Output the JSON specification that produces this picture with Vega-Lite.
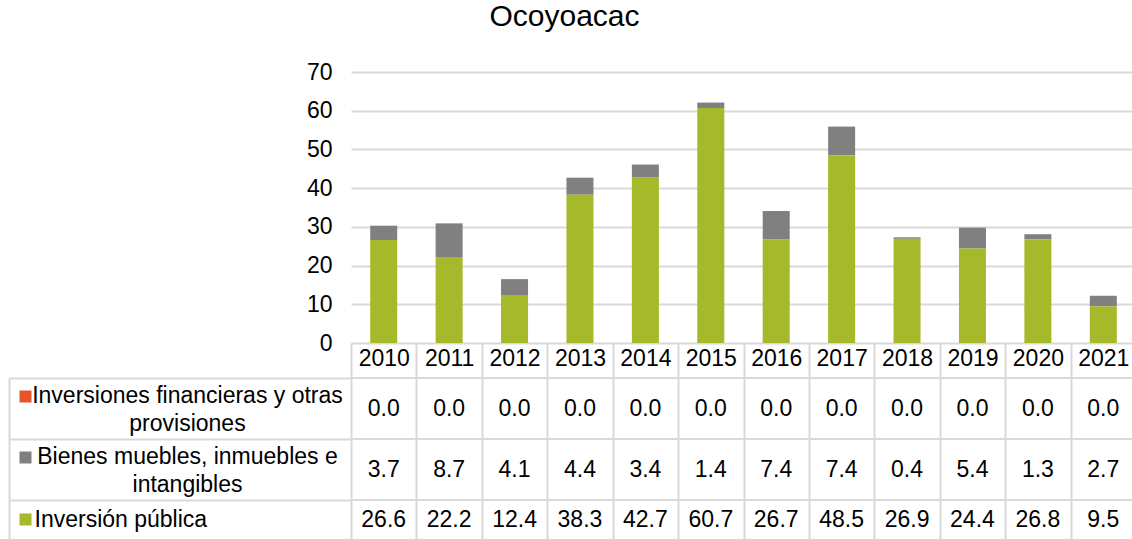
{
  "$schema": "https://vega.github.io/schema/vega-lite/v6.json",
  "padding": {"left": 8, "top": 2, "right": 0, "bottom": 0},
  "title": {"text": "Ocoyoacac", "fontSize": 30, "font": "Liberation Sans", "fontWeight": "normal", "color": "#000000", "anchor": "middle", "dx": -8, "offset": 29},
  "config": {
    "view": {"stroke": null},
    "font": "Liberation Sans",
    "axis": {"labelFont": "Liberation Sans", "labelColor": "#000000", "labelFontSize": 23}
  },
  "datasets": {
    "d": [
      {"anio": "2010", "serie": "Inversiones financieras y otras provisiones", "valor": 0.0},
      {"anio": "2010", "serie": "Bienes muebles, inmuebles e intangibles", "valor": 3.7},
      {"anio": "2010", "serie": "Inversión pública", "valor": 26.6},
      {"anio": "2011", "serie": "Inversiones financieras y otras provisiones", "valor": 0.0},
      {"anio": "2011", "serie": "Bienes muebles, inmuebles e intangibles", "valor": 8.7},
      {"anio": "2011", "serie": "Inversión pública", "valor": 22.2},
      {"anio": "2012", "serie": "Inversiones financieras y otras provisiones", "valor": 0.0},
      {"anio": "2012", "serie": "Bienes muebles, inmuebles e intangibles", "valor": 4.1},
      {"anio": "2012", "serie": "Inversión pública", "valor": 12.4},
      {"anio": "2013", "serie": "Inversiones financieras y otras provisiones", "valor": 0.0},
      {"anio": "2013", "serie": "Bienes muebles, inmuebles e intangibles", "valor": 4.4},
      {"anio": "2013", "serie": "Inversión pública", "valor": 38.3},
      {"anio": "2014", "serie": "Inversiones financieras y otras provisiones", "valor": 0.0},
      {"anio": "2014", "serie": "Bienes muebles, inmuebles e intangibles", "valor": 3.4},
      {"anio": "2014", "serie": "Inversión pública", "valor": 42.7},
      {"anio": "2015", "serie": "Inversiones financieras y otras provisiones", "valor": 0.0},
      {"anio": "2015", "serie": "Bienes muebles, inmuebles e intangibles", "valor": 1.4},
      {"anio": "2015", "serie": "Inversión pública", "valor": 60.7},
      {"anio": "2016", "serie": "Inversiones financieras y otras provisiones", "valor": 0.0},
      {"anio": "2016", "serie": "Bienes muebles, inmuebles e intangibles", "valor": 7.4},
      {"anio": "2016", "serie": "Inversión pública", "valor": 26.7},
      {"anio": "2017", "serie": "Inversiones financieras y otras provisiones", "valor": 0.0},
      {"anio": "2017", "serie": "Bienes muebles, inmuebles e intangibles", "valor": 7.4},
      {"anio": "2017", "serie": "Inversión pública", "valor": 48.5},
      {"anio": "2018", "serie": "Inversiones financieras y otras provisiones", "valor": 0.0},
      {"anio": "2018", "serie": "Bienes muebles, inmuebles e intangibles", "valor": 0.4},
      {"anio": "2018", "serie": "Inversión pública", "valor": 26.9},
      {"anio": "2019", "serie": "Inversiones financieras y otras provisiones", "valor": 0.0},
      {"anio": "2019", "serie": "Bienes muebles, inmuebles e intangibles", "valor": 5.4},
      {"anio": "2019", "serie": "Inversión pública", "valor": 24.4},
      {"anio": "2020", "serie": "Inversiones financieras y otras provisiones", "valor": 0.0},
      {"anio": "2020", "serie": "Bienes muebles, inmuebles e intangibles", "valor": 1.3},
      {"anio": "2020", "serie": "Inversión pública", "valor": 26.8},
      {"anio": "2021", "serie": "Inversiones financieras y otras provisiones", "valor": 0.0},
      {"anio": "2021", "serie": "Bienes muebles, inmuebles e intangibles", "valor": 2.7},
      {"anio": "2021", "serie": "Inversión pública", "valor": 9.5}
    ]
  },
  "data": {"name": "d"},
  "bounds": "flush",
  "spacing": 35,
  "resolve": {"scale": {"x": "independent", "y": "independent"}},
  "vconcat": [
    {
      "width": 785,
      "height": 271,
      "mark": {"type": "bar"},
      "encoding": {
        "x": {"field": "anio", "type": "nominal", "scale": {"type": "band", "paddingInner": 0.587, "paddingOuter": 0.2935}, "axis": null},
        "y": {"field": "valor", "type": "quantitative", "stack": "zero", "scale": {"domain": [0, 70], "nice": false},
          "axis": {"values": [0, 10, 20, 30, 40, 50, 60, 70], "title": null, "domain": false, "ticks": false, "labelPadding": 19, "gridColor": "#d9d9d9", "gridWidth": 2}},
        "color": {"field": "serie", "type": "nominal",
          "scale": {"domain": ["Inversiones financieras y otras provisiones", "Bienes muebles, inmuebles e intangibles", "Inversión pública"], "range": ["#E8542A", "#808080", "#A6B92A"]},
          "legend": null},
        "order": {"field": "serie", "sort": "descending"}
      }
    },
    {
      "bounds": "flush",
      "spacing": 0,
      "resolve": {"scale": {"x": "independent", "y": "independent"}},
      "vconcat": [
        {
          "width": 785,
          "height": 122,
          "transform": [{"filter": "datum.serie !== 'Inversión pública'"}],
          "resolve": {"axis": {"y": "independent"}},
          "layer": [
            {
              "mark": {"type": "text", "fontSize": 23, "font": "Liberation Sans", "color": "#000000", "baseline": "middle"},
              "encoding": {
                "x": {"field": "anio", "type": "nominal", "scale": {"type": "band", "paddingInner": 0, "paddingOuter": 0},
                  "axis": {"orient": "top", "title": null, "domain": false, "tickBand": "extent", "tickSize": 35, "tickColor": "#d9d9d9", "tickWidth": 2,
                    "grid": true, "gridColor": "#d9d9d9", "gridWidth": 2, "labelPadding": -15, "labelBaseline": "middle", "labelAngle": 0}},
                "y": {"field": "serie", "type": "nominal",
                  "sort": ["Inversiones financieras y otras provisiones", "Bienes muebles, inmuebles e intangibles"],
                  "scale": {"type": "band", "paddingInner": 0, "paddingOuter": 0},
                  "axis": {
                    "orient": "left", "offset": 320, "title": null, "domain": false, "grid": false,
                    "ticks": true, "tickSize": 12, "tickWidth": 12, "tickOffset": -13,
                    "tickColor": {"condition": {"test": "datum.value === 'Bienes muebles, inmuebles e intangibles'", "value": "#808080"}, "value": "#E8542A"},
                    "labelAlign": "center",
                    "labelPadding": -168,
                    "labelOffset": 0,
                    "labelBaseline": "middle",
                    "labelLineHeight": 28,
                    "labelLimit": 400,
                    "labelOverlap": false,
                    "labelExpr": "datum.value === 'Inversiones financieras y otras provisiones' ? ['Inversiones financieras y otras', 'provisiones'] : ['Bienes muebles, inmuebles e', 'intangibles']"
                  }},
                "text": {"field": "valor", "type": "quantitative", "format": ".1f"}
              }
            },
            {
              "mark": {"type": "rule", "color": "#d9d9d9", "strokeWidth": 2},
              "encoding": {
                "y": {"field": "serie", "type": "nominal",
                  "sort": ["Inversiones financieras y otras provisiones", "Bienes muebles, inmuebles e intangibles"],
                  "bandPosition": 0,
                  "axis": {"orient": "left", "offset": 342, "title": null, "labels": false, "grid": false,
                    "domain": true, "domainColor": "#d9d9d9", "domainWidth": 2,
                    "ticks": true, "tickSize": -342, "tickBand": "extent", "tickColor": "#d9d9d9", "tickWidth": 2}}
              }
            }
          ]
        },
        {
          "width": 785,
          "height": 39,
          "transform": [{"filter": "datum.serie === 'Inversión pública'"}],
          "resolve": {"axis": {"y": "independent"}},
          "layer": [
            {
              "mark": {"type": "text", "fontSize": 23, "font": "Liberation Sans", "color": "#000000", "baseline": "middle"},
              "encoding": {
                "x": {"field": "anio", "type": "nominal", "scale": {"type": "band", "paddingInner": 0, "paddingOuter": 0},
                  "axis": {"orient": "top", "title": null, "domain": false, "labels": false, "ticks": false, "tickBand": "extent",
                    "grid": true, "gridColor": "#d9d9d9", "gridWidth": 2}},
                "y": {"field": "serie", "type": "nominal",
                  "scale": {"type": "band", "paddingInner": 0, "paddingOuter": 0},
                  "axis": {
                    "orient": "left", "offset": 320, "title": null, "domain": false, "grid": false,
                    "ticks": true, "tickSize": 12, "tickWidth": 12, "tickColor": "#A6B92A",
                    "labelAlign": "left",
                    "labelPadding": -15,
                    "labelBaseline": "middle",
                    "labelLimit": 400,
                    "labelOverlap": false
                  }},
                "text": {"field": "valor", "type": "quantitative", "format": ".1f"}
              }
            },
            {
              "mark": {"type": "rule", "color": "#d9d9d9", "strokeWidth": 2},
              "encoding": {
                "y": {"field": "serie", "type": "nominal", "bandPosition": 0,
                  "axis": {"orient": "left", "offset": 342, "title": null, "labels": false, "grid": false,
                    "domain": true, "domainColor": "#d9d9d9", "domainWidth": 2, "ticks": false}}
              }
            }
          ]
        }
      ]
    }
  ]
}
